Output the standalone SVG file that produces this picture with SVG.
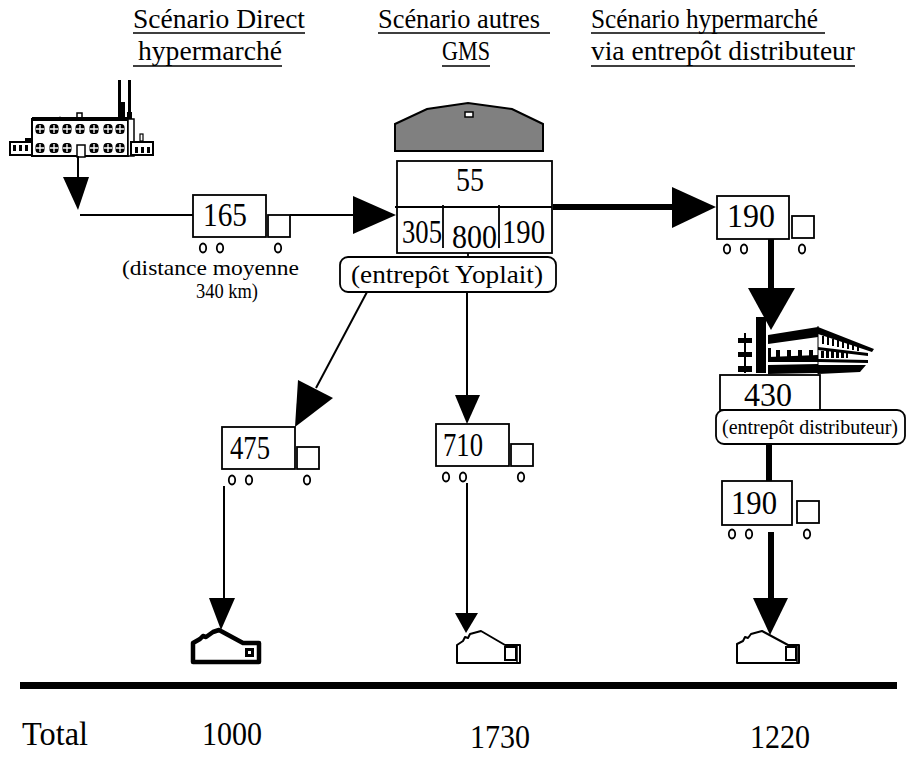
<svg xmlns="http://www.w3.org/2000/svg" xmlns:xlink="http://www.w3.org/1999/xlink" width="907" height="762" viewBox="0 0 907 762">
  <style>
    .t{font-family:"Liberation Serif","Times New Roman",serif;fill:#000}
    .title{font-size:28px}
    .num{font-size:34px}
    .lbl{font-size:25px}
    .box{fill:#fff;stroke:#000;stroke-width:1.8}
    .ul{stroke:#000;stroke-width:1.6}
    .thin{stroke:#000;stroke-width:2;fill:none}
    .thick{stroke:#000;stroke-width:6;fill:none}
    .head{fill:#000}
    .blk{fill:#000}
    .house{fill:#fff;stroke:#000;stroke-width:2;stroke-linejoin:round}
  </style>
  <defs>
    <!-- factory window glyph -->
    <g id="win">
      <rect x="-4.5" y="-5" width="9" height="10" rx="3.5" fill="#000"/>
      <path d="M-4,0H4M0,-4V4" stroke="#fff" stroke-width="1.3"/>
    </g>
    <!-- truck cab and wheels, relative to the load box origin -->
    <g id="truck-base">
      <rect class="box" x="75" y="20" width="22" height="22"/>
      <ellipse cx="10" cy="53" rx="3.2" ry="4.5" fill="none" stroke="#000" stroke-width="1.8"/>
      <ellipse cx="27" cy="53" rx="3.2" ry="4.5" fill="none" stroke="#000" stroke-width="1.8"/>
      <ellipse cx="85" cy="53" rx="3.2" ry="4.5" fill="none" stroke="#000" stroke-width="1.8"/>
    </g>
  </defs>

  <!-- column headings -->
  <g id="titles" class="t title">
    <text x="133" y="28" textLength="172" lengthAdjust="spacingAndGlyphs">Scénario Direct</text>
    <text x="138" y="60" textLength="144" lengthAdjust="spacingAndGlyphs">hypermarché</text>
    <text x="378" y="28" textLength="162" lengthAdjust="spacingAndGlyphs">Scénario autres</text>
    <text x="442" y="60" textLength="48" lengthAdjust="spacingAndGlyphs">GMS</text>
    <text x="591" y="28" textLength="227" lengthAdjust="spacingAndGlyphs">Scénario hypermarché</text>
    <text x="591" y="60" textLength="264" lengthAdjust="spacingAndGlyphs">via entrepôt distributeur</text>
    <path class="ul" d="M133,33H305M133,66H282M378,33H550M442,66H490M591,33H825M591,66H855"/>
  </g>

  <!-- factory -->
  <g id="factory">
    <!-- chimneys -->
    <path class="blk" d="M118,80h3v22h4v17h-7z"/>
    <path class="blk" d="M128,80h3v32h1v7h-5v-7h1z"/>
    <!-- roof features -->
    <path class="blk" d="M57,119q3,-5 6,0z"/>
    <rect x="77" y="113" width="5" height="6" fill="#fff" stroke="#000" stroke-width="1.5"/>
    <!-- main block -->
    <rect x="32" y="119" width="96" height="37" fill="#fff" stroke="#000" stroke-width="2"/>
    <rect x="32" y="117" width="96" height="4" class="blk"/>
    <rect x="128" y="119" width="6" height="37" fill="#fff" stroke="#000" stroke-width="1.5"/>
    <use href="#win" x="40" y="129"/><use href="#win" x="54" y="129"/><use href="#win" x="67" y="129"/>
    <use href="#win" x="80" y="129"/><use href="#win" x="94" y="129"/><use href="#win" x="108" y="129"/>
    <use href="#win" x="120" y="129"/>
    <use href="#win" x="40" y="148"/><use href="#win" x="54" y="148"/><use href="#win" x="67" y="148"/>
    <use href="#win" x="94" y="148"/><use href="#win" x="108" y="148"/><use href="#win" x="120" y="148"/>
    <rect x="77" y="145" width="8" height="12" fill="#fff" stroke="#000" stroke-width="1.5"/>
    <!-- left annex -->
    <rect x="25" y="138" width="7" height="4" class="blk"/>
    <rect x="10" y="142" width="22" height="13" fill="#fff" stroke="#000" stroke-width="2"/>
    <rect x="13" y="145" width="3" height="6" class="blk"/><rect x="19" y="145" width="3" height="6" class="blk"/><rect x="25" y="145" width="3" height="6" class="blk"/>
    <!-- right annex -->
    <rect x="140" y="134" width="3" height="7" fill="#fff" stroke="#000" stroke-width="1.2"/>
    <rect x="131" y="142" width="22" height="13" fill="#fff" stroke="#000" stroke-width="2"/>
    <rect x="135" y="147" width="3" height="6" class="blk"/><rect x="141" y="147" width="3" height="6" class="blk"/><rect x="147" y="147" width="3" height="6" class="blk"/>
  </g>

  <!-- direct truck -->
  <g id="truck-165" transform="translate(193,195)">
    <rect class="box" width="73" height="42"/>
    <use href="#truck-base"/>
    <text class="t num" x="10" y="31" textLength="44" lengthAdjust="spacingAndGlyphs">165</text>
  </g>
  <g id="distance-note" class="t" font-size="21">
    <text x="122" y="275" textLength="177" lengthAdjust="spacingAndGlyphs">(distance moyenne</text>
    <text x="196" y="298" textLength="62" lengthAdjust="spacingAndGlyphs">340 km)</text>
  </g>

  <!-- Yoplait warehouse -->
  <g id="yoplait-warehouse">
    <path d="M395,124L427,109L468,103L512,109L543,124V151H395Z" fill="#808080" stroke="#000" stroke-width="2"/>
    <rect x="465" y="112" width="8" height="5" fill="#fff" stroke="#000" stroke-width="1.5"/>
    <rect class="box" x="397" y="161" width="155" height="92"/>
    <path d="M395,207H552M443,205V248M499,205V248M468,253V257" stroke="#000" stroke-width="1.8"/>
    <g class="t num">
      <text x="456" y="191" textLength="28" lengthAdjust="spacingAndGlyphs">55</text>
      <text x="402" y="243" textLength="40" lengthAdjust="spacingAndGlyphs">305</text>
      <text x="452" y="248" textLength="45" lengthAdjust="spacingAndGlyphs">800</text>
      <text x="502" y="243" textLength="43" lengthAdjust="spacingAndGlyphs">190</text>
    </g>
    <rect class="box" x="340" y="257" width="216" height="35" rx="8"/>
    <text class="t lbl" x="351" y="283" textLength="192" lengthAdjust="spacingAndGlyphs">(entrepôt Yoplait)</text>
  </g>

  <!-- truck to distributor warehouse -->
  <g id="truck-190-a" transform="translate(717,196)">
    <rect class="box" width="72" height="43"/>
    <use href="#truck-base"/>
    <text class="t num" x="10" y="31" textLength="48" lengthAdjust="spacingAndGlyphs">190</text>
  </g>

  <!-- distributor warehouse -->
  <g id="distributor-warehouse">
    <!-- left wing -->
    <path class="blk" d="M738,338h14v5h-14zM738,352h14v5h-14zM738,366h14v6h-14z"/>
    <rect x="744" y="333" width="2" height="40" class="blk"/>
    <!-- pillar -->
    <rect x="756" y="317" width="10" height="56" class="blk"/>
    <!-- front block -->
    <path class="blk" d="M768,335L818,327V337L768,344Z"/>
    <path class="blk" d="M768,348h3v9h-3zM776,350h4v7h-4zM787,350h4v7h-4zM798,350h4v7h-4zM809,350h4v7h-4z"/>
    <path class="blk" d="M768,357L818,355V362L768,362Z"/>
    <path class="blk" d="M768,365L818,364V373L768,374Z"/>
    <!-- receding wing -->
    <path d="M818,326V374" stroke="#000" stroke-width="1"/>
    <path class="blk" d="M818,327L874,349L872,352L818,334Z"/>
    <path class="blk" d="M822,336h2v8h-2zM827,337h2v8h-2zM832,339h2v7h-2zM837,340h2v7h-2zM842,342h2v6h-2zM847,343h2v6h-2zM852,345h2v5h-2zM857,346h2v5h-2z"/>
    <path class="blk" d="M818,347L868,353V356L818,350Z"/>
    <path class="blk" d="M821,351h3v7h-3zM826,351h3v7h-3zM831,351h3v7h-3zM836,352h3v6h-3zM841,352h3v6h-3zM846,352h2v6h-2z"/>
    <path class="blk" d="M818,359L868,360V363L818,362Z"/>
    <path class="blk" d="M818,365L866,365L860,372L818,374Z"/>
    <!-- stock figure and label -->
    <rect class="box" x="720" y="375" width="100" height="35"/>
    <text class="t num" x="744" y="406" textLength="48" lengthAdjust="spacingAndGlyphs">430</text>
    <rect class="box" x="716" y="410" width="189" height="34" rx="8"/>
    <text class="t" font-size="22" x="722" y="434" textLength="176" lengthAdjust="spacingAndGlyphs">(entrepôt distributeur)</text>
  </g>

  <!-- trucks to the stores -->
  <g id="truck-475" transform="translate(222,427)">
    <rect class="box" width="73" height="42"/>
    <use href="#truck-base"/>
    <text class="t num" x="8" y="32" textLength="40" lengthAdjust="spacingAndGlyphs">475</text>
  </g>
  <g id="truck-710" transform="translate(436,424)">
    <rect class="box" width="73" height="42"/>
    <use href="#truck-base"/>
    <text class="t num" x="7" y="32" textLength="40" lengthAdjust="spacingAndGlyphs">710</text>
  </g>
  <g id="truck-190-b" transform="translate(722,481)">
    <rect class="box" width="70" height="44"/>
    <use href="#truck-base"/>
    <text class="t num" x="9" y="33" textLength="46" lengthAdjust="spacingAndGlyphs">190</text>
  </g>

  <!-- stores -->
  <g id="store-hyper-direct">
    <path d="M193,662V643L200,639L203,636L206,637L213,632L219,630L243,643H259V662Z" fill="#fff" stroke="#000" stroke-width="4.5" stroke-linejoin="round"/>
    <rect x="246.5" y="649.5" width="6" height="6" fill="#fff" stroke="#000" stroke-width="3"/>
  </g>
  <g id="store-gms">
    <path class="house" d="M457,663V645L463,641L465,637L468,638L470,634L481,631L505,645H520V663Z"/>
    <rect x="505" y="647" width="11" height="13" fill="#fff" stroke="#000" stroke-width="2"/>
    <path d="M517,645V663" stroke="#000" stroke-width="1.5"/>
  </g>
  <g id="store-hyper-via">
    <path class="house" d="M737,663V644L743,641L745,637L748,638L751,634L762,631L788,645H799V663Z"/>
    <rect x="786" y="647" width="10" height="13" fill="#fff" stroke="#000" stroke-width="2"/>
    <path d="M797,645V663" stroke="#000" stroke-width="1.5"/>
  </g>

  <!-- flows -->
  <g id="connectors">
    <path class="thin" d="M78,156V178"/>
    <polygon class="head" points="63,177 89,177 78,210"/>
    <path class="thin" d="M80,215H193M290,215H354"/>
    <polygon class="head" points="353,196 353,234 396,215"/>
    <path class="thick" d="M553,207H674"/>
    <polygon class="head" points="672,187 672,228 716,207"/>
    <path class="thick" d="M771,239V290"/>
    <polygon class="head" points="748,288 795,288 771,330"/>
    <path class="thick" d="M769,444V481"/>
    <path class="thin" d="M367,292L316,388"/>
    <polygon class="head" points="298,380 333,398 295,427"/>
    <path class="thin" d="M467,292V396"/>
    <polygon class="head" points="455,395 480,395 467,424"/>
    <path class="thin" d="M224,486V599"/>
    <polygon class="head" points="209,598 235,598 221,630"/>
    <path class="thin" d="M467,483V614"/>
    <polygon class="head" points="455,613 478,613 466,633"/>
    <path class="thick" d="M771,532V599"/>
    <polygon class="head" points="753,598 788,598 770,635"/>
  </g>

  <!-- totals -->
  <g id="totals">
    <rect x="20" y="682" width="877" height="7" class="blk"/>
    <g class="t num">
      <text x="22" y="745" textLength="66" lengthAdjust="spacingAndGlyphs">Total</text>
      <text x="202" y="745" textLength="60" lengthAdjust="spacingAndGlyphs">1000</text>
      <text x="470" y="748" textLength="60" lengthAdjust="spacingAndGlyphs">1730</text>
      <text x="750" y="748" textLength="60" lengthAdjust="spacingAndGlyphs">1220</text>
    </g>
  </g>
</svg>
